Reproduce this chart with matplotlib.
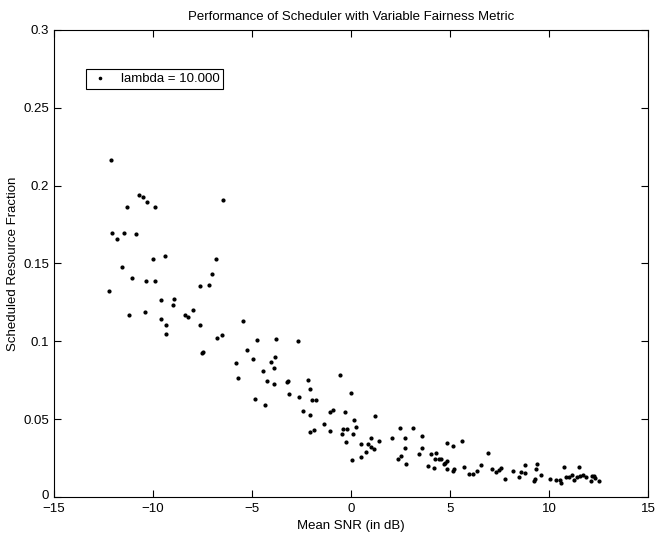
import numpy as np
import matplotlib
matplotlib.use('Agg')
import matplotlib.pyplot as plt
import matplotlib.transforms as mtransforms

plt.rcParams['font.family'] = ['Liberation Sans', 'DejaVu Sans']

# mean SNR (dB) for each user
snr_db = [
    -12.12, -10.71, -10.51, -10.27, -11.30, -9.87, -6.47, -12.07, -11.45, -10.86,
    -11.78, -9.98, -9.40, -6.79, -11.55, -7.01, -11.03, -10.35, -9.88, -7.63,
    -7.14, -12.22, -9.60, -8.94, -8.99, -11.19, -10.40, -7.97, -8.37, -8.22,
    -9.60, -9.31, -7.63, -5.46, -9.33, -6.77, -6.52,
    -4.76, -3.80, -2.69, -5.24, -4.96, -3.83, -4.03, -3.88, -7.53, -7.48,
    -5.80, -4.45, -5.70, -4.25, -3.90, -3.24, -3.18, -2.18, -2.08, -0.57,
    -3.13, -2.61, -1.95, -1.76, 0.02, -4.86, -4.34, -2.42, -2.08, -1.07,
    -0.92, -0.32, 1.20, 0.15, -1.36, 0.25, -0.40, -0.22, -2.08, -1.87,
    -1.06, -0.47, 0.12, 1.02, -0.27, 0.49, 0.86, 1.02, 1.18, 1.41,
    0.77, 0.49, 0.05,
    2.47, 3.11, 2.07, 2.71, 3.56, 2.71, 3.56, 3.45, 2.52, 2.37,
    2.77, 4.82, 5.13, 5.60, 4.02, 4.29, 4.22, 4.45, 4.55, 4.82,
    4.76, 4.69, 3.87, 4.20, 4.82, 5.21, 5.16, 5.70, 5.93, 6.15,
    6.35, 6.57, 6.89, 7.13,
    7.31, 7.46, 7.58, 7.75, 8.19, 8.45, 8.59, 8.77, 8.76, 9.36,
    9.31, 9.57, 9.29, 9.21, 10.02, 10.35, 10.52, 10.61, 10.74, 10.84,
    10.98, 11.16, 11.23, 11.41, 11.50, 11.55, 11.68, 11.83, 12.14, 12.24,
    12.32, 12.12, 12.53,
]

# scheduled resource fraction for the same users
sched_frac = [
    0.2167, 0.1938, 0.1929, 0.1895, 0.1861, 0.1861, 0.1908, 0.1698, 0.1698, 0.1689,
    0.1655, 0.1527, 0.1550, 0.1529, 0.1475, 0.1433, 0.1405, 0.1385, 0.1385, 0.1353,
    0.1362, 0.1323, 0.1265, 0.1274, 0.1231, 0.1169, 0.1188, 0.1199, 0.1167, 0.1154,
    0.1143, 0.1107, 0.1105, 0.1131, 0.1047, 0.1019, 0.1043,
    0.1009, 0.1015, 0.1004, 0.0942, 0.0886, 0.0899, 0.0865, 0.0831, 0.0925, 0.0929,
    0.0859, 0.0807, 0.0764, 0.0743, 0.0728, 0.0737, 0.0743, 0.0749, 0.0694, 0.0784,
    0.0660, 0.0644, 0.0625, 0.0623, 0.0668, 0.0632, 0.0589, 0.0552, 0.0529, 0.0546,
    0.0557, 0.0544, 0.0520, 0.0493, 0.0469, 0.0450, 0.0435, 0.0439, 0.0418, 0.0428,
    0.0422, 0.0403, 0.0403, 0.0381, 0.0355, 0.0340, 0.0338, 0.0319, 0.0308, 0.0362,
    0.0287, 0.0255, 0.0240,
    0.0441, 0.0441, 0.0377, 0.0377, 0.0394, 0.0317, 0.0317, 0.0274, 0.0263, 0.0242,
    0.0214, 0.0349, 0.0328, 0.0362, 0.0274, 0.0281, 0.0246, 0.0244, 0.0242, 0.0233,
    0.0220, 0.0212, 0.0199, 0.0184, 0.0180, 0.0178, 0.0167, 0.0191, 0.0146, 0.0146,
    0.0167, 0.0206, 0.0283, 0.0182,
    0.0161, 0.0173, 0.0188, 0.0118, 0.0165, 0.0130, 0.0159, 0.0156, 0.0206, 0.0210,
    0.0178, 0.0139, 0.0118, 0.0101, 0.0116, 0.0107, 0.0107, 0.0092, 0.0195, 0.0130,
    0.0128, 0.0139, 0.0109, 0.0128, 0.0193, 0.0137, 0.0139, 0.0128, 0.0133, 0.0135,
    0.0124, 0.0105, 0.0103,
]

x_ticks = [-15, -10, -5, 0, 5, 10, 15]
y_ticks = [0, 0.05, 0.1, 0.15, 0.2, 0.25, 0.3]
y_tick_labels = ['0', '0.05', '0.1', '0.15', '0.2', '0.25', '0.3']

fs = 9.5

fig = plt.figure(figsize=(6.55, 5.35), dpi=100)
ax = fig.add_axes([0.0817, 0.071, 0.9083, 0.873])

ax.plot(snr_db, sched_frac, 'k.', markersize=4, label='lambda = 10.000')

ax.set_xlim(-15, 15)
ax.set_ylim(0, 0.3)
ax.set_xticks(x_ticks)
ax.set_xticklabels([str(t).replace('-', '\u2212') for t in x_ticks])
ax.set_yticks(y_ticks)
ax.set_yticklabels(y_tick_labels)
ax.tick_params(direction='in', top=True, right=True, length=5, width=0.8,
               labelsize=fs, colors='black')
ax.tick_params(axis='x', pad=4)
ax.tick_params(axis='y', pad=3)
for s in ax.spines.values():
    s.set_linewidth(0.8)

# nudge the "0" label up a little so it clears the "-15" below it
zero_lbl = ax.get_yticklabels()[0]
zero_lbl.set_transform(zero_lbl.get_transform() +
                       mtransforms.ScaledTranslation(0, 2 / 72, fig.dpi_scale_trans))

ax.set_title('Performance of Scheduler with Variable Fairness Metric', fontsize=fs, pad=7)
ax.set_xlabel('Mean SNR (in dB)', fontsize=fs, labelpad=4)
ax.set_ylabel('Scheduled Resource Fraction', fontsize=fs, labelpad=3)

leg = ax.legend(loc='upper left', bbox_to_anchor=(0.055, 0.916), borderaxespad=0,
                fancybox=False, edgecolor='black', framealpha=1, fontsize=fs,
                handlelength=1.5, handletextpad=0.8, borderpad=0.3, markerscale=0.8)
leg.get_frame().set_linewidth(0.8)

fig.savefig('out.png', dpi=100)
